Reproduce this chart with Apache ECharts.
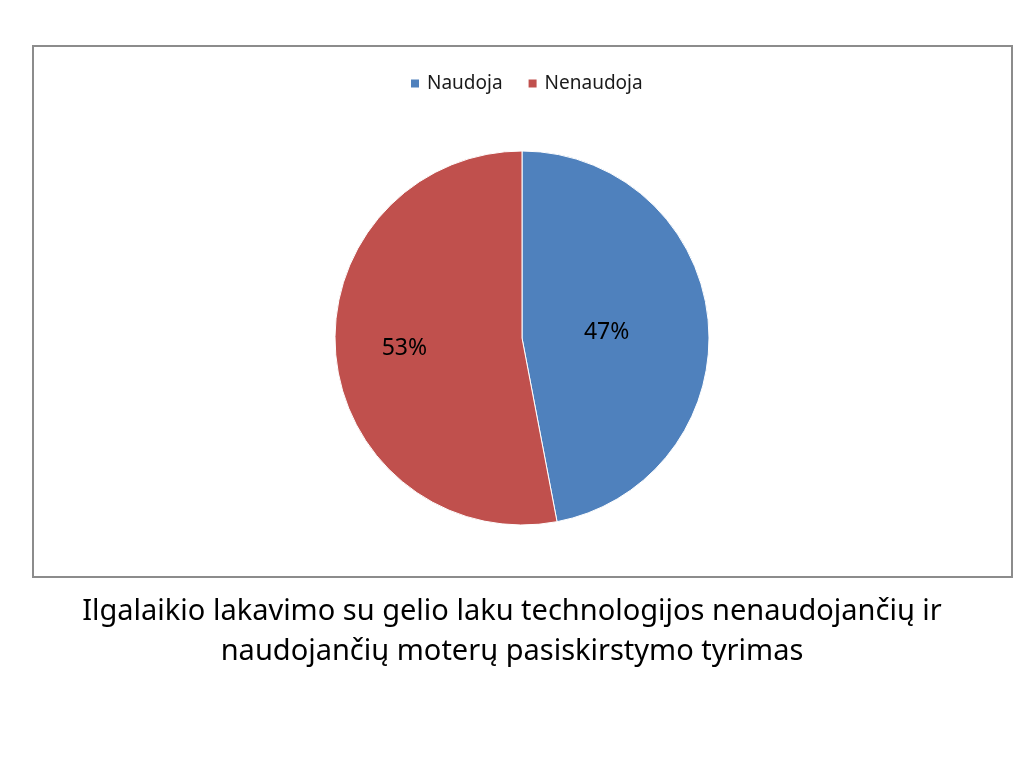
<!DOCTYPE html>
<html>
<head>
<meta charset="utf-8">
<script src="https://cdn.jsdelivr.net/npm/echarts@6/dist/echarts.min.js"></script>
<style>
  html, body {margin: 0; padding: 0; background: #fff;}
  #main {width: 1024px; height: 768px;}
</style>
</head>
<body>
<div id="main"></div>
<script>
var categories = ['Naudoja', 'Nenaudoja'];
var shares = [47, 53];
var colors = ['#4F81BD', '#C0504D'];
var titleLines = [
  'Ilgalaikio lakavimo su gelio laku technologijos nenaudojančių ir',
  'naudojančių moterų pasiskirstymo tyrimas'
];
// small nudges of the percentage labels, as placed in the original
var labelOffsets = [[0, 2], [-33, 2]];

var pieData = categories.map(function (name, i) {
  return {name: name, value: shares[i]};
});

var chart = echarts.init(document.getElementById('main'));
chart.setOption({
  backgroundColor: '#fff',
  color: colors,
  animation: false,
  textStyle: {fontFamily: 'Noto Sans, sans-serif'},
  graphic: [
    {
      type: 'rect',
      shape: {x: 33, y: 46, width: 979, height: 531},
      style: {fill: 'none', stroke: '#8c8c8c', lineWidth: 2}
    }
  ],
  title: {
    text: titleLines.join('\n'),
    left: 'center',
    top: 587,
    textStyle: {
      fontSize: 29,
      fontWeight: 'normal',
      color: '#000',
      lineHeight: 40,
      fontFamily: 'Noto Sans, sans-serif'
    }
  },
  legend: {
    top: 69,
    left: 404,
    icon: 'rect',
    itemWidth: 10,
    itemHeight: 10,
    itemGap: 24,
    textStyle: {fontSize: 19, color: '#1a1a1a', padding: [0, 0, 0, 2]},
    data: categories
  },
  series: [
    {
      type: 'pie',
      center: [522, 338],
      radius: 187,
      startAngle: 90,
      clockwise: true,
      itemStyle: {borderColor: '#fff', borderWidth: 1},
      label: {show: false},
      labelLine: {show: false},
      emphasis: {disabled: true},
      data: pieData
    },
    {
      // label ring: same data, only carries the percentage labels
      type: 'pie',
      center: [522, 338],
      radius: 164,
      startAngle: 90,
      clockwise: true,
      silent: true,
      itemStyle: {color: 'transparent', borderWidth: 0},
      label: {
        position: 'inner',
        formatter: '{d}%',
        fontSize: 23,
        color: '#000'
      },
      labelLine: {show: false},
      emphasis: {disabled: true},
      data: pieData.map(function (d, i) {
        return {name: d.name, value: d.value, label: {offset: labelOffsets[i]}};
      })
    }
  ]
});
</script>
</body>
</html>
